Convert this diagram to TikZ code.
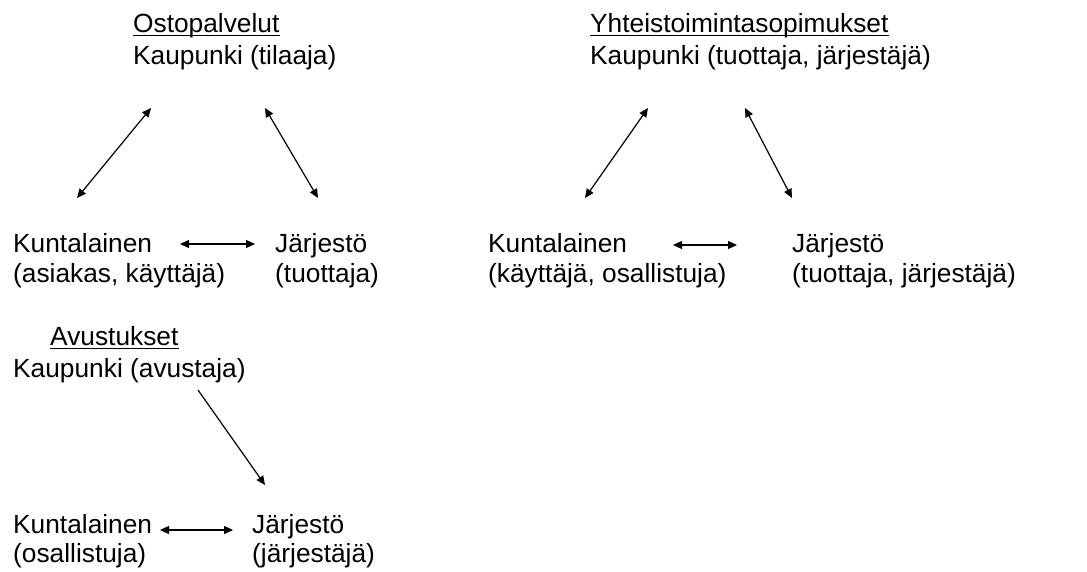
\documentclass[tikz,border=0pt]{standalone}
\usepackage{fontspec}
\setmainfont{Liberation Sans}
\usetikzlibrary{arrows.meta}
\begin{document}
\begin{tikzpicture}[x=1pt,y=-1pt,
  lbl/.style={anchor=base west,inner sep=0pt,font=\fontsize{26.3}{30}\selectfont},
  conn/.style={line width=1.2pt,{Triangle[length=9pt,width=8pt]}-{Triangle[length=9pt,width=8pt]}},
  oneway/.style={line width=1.2pt,-{Triangle[length=9pt,width=8pt]}},
  uline/.style={line width=1.3pt}]
\useasboundingbox (0,0) rectangle (1087,572);
% Panel 1
\node[lbl] (t1) at (133,33) {Ostopalvelut};
\node[lbl] (k1) at (133,65) {Kaupunki (tilaaja)};
\node[lbl] (c1a) at (13,252) {Kuntalainen};
\node[lbl] (c1b) at (13,282) {(asiakas, käyttäjä)};
\node[lbl] (j1a) at (275,252) {Järjestö};
\node[lbl] (j1b) at (275,282) {(tuottaja)};
\draw[uline] ([yshift=-2.5pt]t1.base west) -- ([yshift=-2.5pt]t1.base east);
\coordinate (a1s) at (77,198); \coordinate (a1e) at (151,108);
\coordinate (a2s) at (265,108); \coordinate (a2e) at (318,198);
\coordinate (h1s) at (180,244); \coordinate (h1e) at (255,244);
\draw[conn] (a1s) -- (a1e);
\draw[conn] (a2s) -- (a2e);
\draw[conn] (h1s) -- (h1e);
% Panel 2
\node[lbl] (t2) at (590,33) {Yhteistoimintasopimukset};
\node[lbl] (k2) at (590,65) {Kaupunki (tuottaja, järjestäjä)};
\node[lbl] (c2a) at (488,252) {Kuntalainen};
\node[lbl] (c2b) at (488,282) {(käyttäjä, osallistuja)};
\node[lbl] (j2a) at (792,252) {Järjestö};
\node[lbl] (j2b) at (792,282) {(tuottaja, järjestäjä)};
\draw[uline] ([yshift=-2.5pt]t2.base west) -- ([yshift=-2.5pt]t2.base east);
\coordinate (b1s) at (585,198); \coordinate (b1e) at (648,108);
\coordinate (b2s) at (745,108); \coordinate (b2e) at (792,198);
\coordinate (h2s) at (673,245); \coordinate (h2e) at (737,245);
\draw[conn] (b1s) -- (b1e);
\draw[conn] (b2s) -- (b2e);
\draw[conn] (h2s) -- (h2e);
% Panel 3
\node[lbl] (t3) at (50,345) {Avustukset};
\node[lbl] (k3) at (13,377) {Kaupunki (avustaja)};
\node[lbl] (c3a) at (13,533) {Kuntalainen};
\node[lbl] (c3b) at (13,562) {(osallistuja)};
\node[lbl] (j3a) at (252,533) {Järjestö};
\node[lbl] (j3b) at (252,562) {(järjestäjä)};
\draw[uline] ([yshift=-3.5pt]t3.base west) -- ([yshift=-3.5pt]t3.base east);
\coordinate (d1s) at (198,390); \coordinate (d1e) at (265,485);
\coordinate (h3s) at (160,530); \coordinate (h3e) at (233,530);
\draw[oneway] (d1s) -- (d1e);
\draw[conn] (h3s) -- (h3e);
\end{tikzpicture}
\end{document}
